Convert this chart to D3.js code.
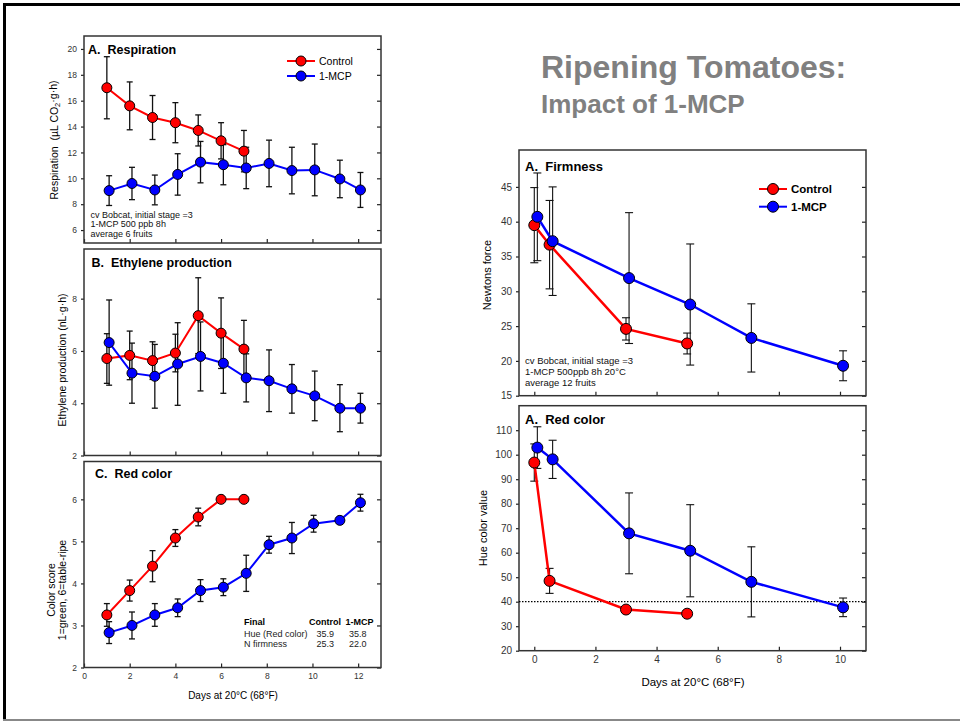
<!DOCTYPE html>
<html>
<head>
<meta charset="utf-8">
<script src="https://cdnjs.cloudflare.com/ajax/libs/d3/7.8.5/d3.min.js"></script>
<style>
body { margin: 0; background: #fff; }
svg { display: block; font-family: "Liberation Sans", Arial, Helvetica, sans-serif; }
.tick text { fill: #333; }
</style>
</head>
<body>
<div id="chart"></div>
<script>
// ---- data ----
// A. Respiration (uL CO2/g/h)
var respDaysCtl = [1, 2, 3, 4, 5, 6, 7];
var respCtl = [17.0, 15.6, 14.7, 14.3, 13.7, 12.9, 12.1];
var respCtlErr = [2.4, 1.85, 1.7, 1.55, 1.2, 1.4, 1.6];
var respDaysMcp = [1.1, 2.1, 3.1, 4.1, 5.1, 6.1, 7.1, 8.1, 9.1, 10.1, 11.2, 12.1];
var respMcp = [9.05, 9.6, 9.1, 10.3, 11.25, 11.05, 10.8, 11.15, 10.6, 10.65, 9.95, 9.1];
var respMcpErr = [1.15, 1.25, 1.15, 1.6, 1.6, 1.55, 1.6, 1.8, 1.8, 2.0, 1.45, 1.35];

// B. Ethylene production (nL/g/h)
var ethDaysCtl = [1, 2, 3, 4, 5, 6, 7];
var ethCtl = [5.71, 5.83, 5.63, 5.92, 7.35, 6.68, 6.07];
var ethCtlErr = [0.95, 0.93, 0.72, 0.72, 1.45, 1.35, 1.1];
var ethDaysMcp = [1.1, 2.1, 3.1, 4.1, 5.1, 6.1, 7.1, 8.1, 9.1, 10.1, 11.2, 12.1];
var ethMcp = [6.32, 5.15, 5.03, 5.5, 5.79, 5.53, 4.97, 4.86, 4.55, 4.28, 3.81, 3.81];
var ethMcpErr = [1.63, 1.15, 1.22, 1.58, 1.32, 1.15, 0.92, 1.18, 0.93, 0.95, 0.9, 0.57];

// C. Red color score
var colDaysCtl = [1, 2, 3, 4, 5, 6, 7];
var colCtl = [3.25, 3.83, 4.41, 5.08, 5.58, 6.0, 6.0];
var colCtlErr = [0.27, 0.25, 0.37, 0.2, 0.21, 0, 0];
var colDaysMcp = [1.1, 2.1, 3.1, 4.1, 5.1, 6.1, 7.1, 8.1, 9.1, 10.05, 11.2, 12.1];
var colMcp = [2.83, 3.0, 3.25, 3.42, 3.83, 3.91, 4.24, 4.92, 5.08, 5.42, 5.5, 5.92];
var colMcpErr = [0.26, 0.32, 0.27, 0.21, 0.26, 0.2, 0.43, 0.2, 0.37, 0.2, 0, 0.2];

// right: firmness (N)
var firmDaysCtl = [0, 0.5, 3, 5];
var firmCtl = [39.5, 36.7, 24.6, 22.5];
var firmCtlErr = [5.4, 6.35, 1.6, 1.5];
var firmDaysMcp = [0.1, 0.6, 3.1, 5.1, 7.1, 10.1];
var firmMcp = [40.7, 37.2, 31.9, 28.1, 23.3, 19.3];
var firmMcpErr = [6.3, 7.8, 9.4, 8.7, 4.9, 2.15];

// right: hue
var hueDaysCtl = [0, 0.5, 3, 5];
var hueCtl = [96.8, 48.5, 36.8, 35.1];
var hueCtlErr = [7.6, 5.1, 0, 0];
var hueDaysMcp = [0.1, 0.6, 3.1, 5.1, 7.1, 10.1];
var hueMcp = [102.9, 98.1, 67.9, 60.8, 48.1, 37.7];
var hueMcpErr = [8.5, 7.8, 16.5, 18.8, 14.3, 3.8];
var hueLimit = 40;

// tick labels
var leftDayTicks = [0, 2, 4, 6, 8, 10, 12];
var rightDayTicks = [0, 2, 4, 6, 8, 10];
var respTicks = [6, 8, 10, 12, 14, 16, 18, 20];
var ethTicks = [2, 4, 6, 8];
var colTicks = [2, 3, 4, 5, 6];
var firmTicks = [15, 20, 25, 30, 35, 40, 45];
var hueTicks = [20, 30, 40, 50, 60, 70, 80, 90, 100, 110];

var seriesNames = ["Control", "1-MCP"];
var seriesColors = ["#ff0000", "#0000ff"];

var noteLeft = ["cv Bobcat, initial stage =3", "1-MCP 500 ppb 8h", "average 6 fruits"];
var noteRight = ["cv Bobcat, initial stage =3", "1-MCP 500ppb 8h 20\u00B0C", "average 12 fruits"];
var finalHeader = ["Final", "Control", "1-MCP"];
var finalRows = [["Hue (Red color)", "35.9", "35.8"], ["N firmness", "25.3", "22.0"]];

var svg = d3.select("#chart")
    .append("svg")
    .attr("width", 960)
    .attr("height", 721);

// slide frame
svg.append("line").attr("x1", 3).attr("x2", 960).attr("y1", 4.5).attr("y2", 4.5)
    .attr("stroke", "#000").attr("stroke-width", 3);
svg.append("line").attr("x1", 4.5).attr("x2", 4.5).attr("y1", 3).attr("y2", 720)
    .attr("stroke", "#000").attr("stroke-width", 3);
svg.append("line").attr("x1", 3).attr("x2", 960).attr("y1", 720).attr("y2", 720)
    .attr("stroke", "#888").attr("stroke-width", 2);

function drawPanel(p) {
    var x = d3.scaleLinear().domain(p.xDomain).range([p.left, p.right]);
    var y = d3.scaleLinear().domain(p.yDomain).range([p.bottom, p.top]);
    var g = svg.append("g");

    // ticks left (outside), right (inside mirror), bottom (inside)
    var ya = g.append("g")
        .attr("transform", `translate(${p.left},0)`)
        .call(d3.axisLeft(y).tickValues(p.yTicks).tickSize(3).tickPadding(4).tickFormat(d3.format("d")));
    g.append("g")
        .attr("transform", `translate(${p.right},0)`)
        .call(d3.axisRight(y).tickValues(p.yTicks).tickSize(-4).tickFormat(""));
    var xa = g.append("g")
        .attr("transform", `translate(0,${p.bottom})`)
        .call(d3.axisBottom(x).tickValues(p.xTicks).tickSizeInner(-4).tickSizeOuter(0)
            .tickPadding(p.xPad).tickFormat(p.xLabels ? d3.format("d") : ""));
    g.selectAll(".domain").remove();
    g.selectAll(".tick line").attr("stroke", "#222").attr("stroke-width", 1.2);
    g.selectAll(".tick text").attr("font-size", p.tickFont);
    ya.attr("font-family", null);
    xa.attr("font-family", null);

    // plot frame
    g.append("rect")
        .attr("x", p.left).attr("y", p.top)
        .attr("width", p.right - p.left).attr("height", p.bottom - p.top)
        .attr("fill", "none").attr("stroke", "#333").attr("stroke-width", 1.5);

    if (p.refLine !== undefined) {
        g.append("line")
            .attr("x1", p.left).attr("x2", p.right)
            .attr("y1", y(p.refLine)).attr("y2", y(p.refLine))
            .attr("stroke", "#000").attr("stroke-width", 1.3)
            .attr("stroke-dasharray", "1.5,1.5");
    }

    var sets = p.series.map(function(s) {
        return s.days.map(function(d, i) {
            return { x: d, y: s.values[i], e: s.errors[i] };
        });
    });

    // error bars under everything
    sets.forEach(function(pts) {
        var eb = g.selectAll(null)
            .data(pts.filter(function(d) { return d.e > 0; }))
            .enter().append("g")
            .attr("stroke", "#111").attr("stroke-width", p.errWidth);
        eb.append("line")
            .attr("x1", d => x(d.x)).attr("x2", d => x(d.x))
            .attr("y1", d => y(d.y - d.e)).attr("y2", d => y(d.y + d.e));
        eb.append("line")
            .attr("x1", d => x(d.x) - p.cap).attr("x2", d => x(d.x) + p.cap)
            .attr("y1", d => y(d.y + d.e)).attr("y2", d => y(d.y + d.e));
        eb.append("line")
            .attr("x1", d => x(d.x) - p.cap).attr("x2", d => x(d.x) + p.cap)
            .attr("y1", d => y(d.y - d.e)).attr("y2", d => y(d.y - d.e));
    });

    var line = d3.line().x(d => x(d.x)).y(d => y(d.y));
    sets.forEach(function(pts, k) {
        g.append("path")
            .datum(pts)
            .attr("d", line)
            .attr("fill", "none")
            .attr("stroke", seriesColors[k])
            .attr("stroke-width", p.lineWidth);
        g.selectAll(null)
            .data(pts)
            .enter().append("circle")
            .attr("cx", d => x(d.x))
            .attr("cy", d => y(d.y))
            .attr("r", p.r)
            .attr("fill", seriesColors[k])
            .attr("stroke", "#000")
            .attr("stroke-width", 1);
    });

    // panel title
    g.append("text")
        .attr("x", p.titleX).attr("y", p.titleY)
        .attr("font-size", p.titleFont).attr("font-weight", "bold")
        .style("white-space", "pre")
        .text(p.title);

    return { x: x, y: y, g: g };
}

function legend(g, lx, ly, gap, font, weight, r) {
    seriesNames.forEach(function(name, k) {
        var cy = ly + k * gap;
        g.append("line").attr("x1", lx).attr("x2", lx + 28).attr("y1", cy).attr("y2", cy)
            .attr("stroke", seriesColors[k]).attr("stroke-width", 2);
        g.append("circle").attr("cx", lx + 14).attr("cy", cy).attr("r", r)
            .attr("fill", seriesColors[k]).attr("stroke", "#000");
        g.append("text").attr("x", lx + 32).attr("y", cy).attr("dy", "0.35em")
            .attr("font-size", font).attr("font-weight", weight).text(name);
    });
}

function note(g, lines, nx, ny, gap, font) {
    lines.forEach(function(t, i) {
        g.append("text").attr("x", nx).attr("y", ny + i * gap)
            .attr("font-size", font).attr("fill", "#111").text(t);
    });
}

function yLabel(lines, cx, cy, font, gap) {
    lines.forEach(function(t, i) {
        svg.append("text")
            .attr("transform", `translate(${cx + i * gap},${cy}) rotate(-90)`)
            .attr("text-anchor", "middle")
            .attr("dy", "0.35em")
            .attr("font-size", font)
            .style("white-space", "pre")
            .text(t);
    });
}

var leftCommon = {
    left: 84, right: 381, xDomain: [0, 13], xTicks: leftDayTicks,
    tickFont: 8.5, r: 5, lineWidth: 2, errWidth: 1.3, cap: 3, xPad: 5, titleFont: 12.5
};
var rightCommon = {
    left: 519, right: 866, xDomain: [-0.5, 10.85], xTicks: rightDayTicks,
    tickFont: 10, r: 5.5, lineWidth: 2.5, errWidth: 1.1, cap: 4, xPad: 5, titleFont: 13
};

// A. Respiration
var pA = drawPanel(Object.assign({}, leftCommon, {
    top: 36, bottom: 243, yDomain: [5, 21], yTicks: respTicks, xLabels: false,
    title: "A.  Respiration", titleX: 88, titleY: 54,
    series: [
        { days: respDaysCtl, values: respCtl, errors: respCtlErr },
        { days: respDaysMcp, values: respMcp, errors: respMcpErr }
    ]
}));
legend(pA.g, 287, 61, 15, 10.5, "normal", 5);
note(pA.g, noteLeft, 90.5, 217.5, 9.6, 9);

// B. Ethylene
var pB = drawPanel(Object.assign({}, leftCommon, {
    top: 249, bottom: 455.5, yDomain: [2, 9.9], yTicks: ethTicks, xLabels: false,
    title: "B.  Ethylene production", titleX: 91.5, titleY: 267,
    series: [
        { days: ethDaysCtl, values: ethCtl, errors: ethCtlErr },
        { days: ethDaysMcp, values: ethMcp, errors: ethMcpErr }
    ]
}));

// C. Red color score
var pC = drawPanel(Object.assign({}, leftCommon, {
    top: 461.5, bottom: 667.5, yDomain: [2, 6.9], yTicks: colTicks, xLabels: true,
    title: "C.  Red color", titleX: 95, titleY: 478,
    series: [
        { days: colDaysCtl, values: colCtl, errors: colCtlErr },
        { days: colDaysMcp, values: colMcp, errors: colMcpErr }
    ]
}));
var tableX = [244, 309, 345.5];
var valueX = [244, 316.5, 349];
finalHeader.forEach(function(t, i) {
    pC.g.append("text").attr("x", tableX[i]).attr("y", 625)
        .attr("font-size", 9).attr("font-weight", "bold").text(t);
});
finalRows.forEach(function(row, j) {
    row.forEach(function(t, i) {
        pC.g.append("text").attr("x", valueX[i]).attr("y", 636.5 + j * 10)
            .attr("font-size", 9).attr("fill", "#222").text(t);
    });
});

// right top: firmness
var pF = drawPanel(Object.assign({}, rightCommon, {
    top: 150, bottom: 395.7, yDomain: [15, 50.3], yTicks: firmTicks, xLabels: false,
    title: "A.  Firmness", titleX: 525, titleY: 171,
    series: [
        { days: firmDaysCtl, values: firmCtl, errors: firmCtlErr },
        { days: firmDaysMcp, values: firmMcp, errors: firmMcpErr }
    ]
}));
legend(pF.g, 759, 189, 17.7, 11.5, "bold", 5.5);
note(pF.g, noteRight, 525, 363.5, 11.3, 9.5);

// right bottom: hue
var pH = drawPanel(Object.assign({}, rightCommon, {
    top: 405.7, bottom: 650.7, yDomain: [20, 120], yTicks: hueTicks, xLabels: true,
    refLine: hueLimit,
    title: "A.  Red color", titleX: 525, titleY: 423.5,
    series: [
        { days: hueDaysCtl, values: hueCtl, errors: hueCtlErr },
        { days: hueDaysMcp, values: hueMcp, errors: hueMcpErr }
    ]
}));

// axis titles
var respLabel = svg.append("text")
    .attr("transform", "translate(54,140) rotate(-90)")
    .attr("text-anchor", "middle")
    .attr("dy", "0.35em")
    .attr("font-size", 10.5)
    .style("white-space", "pre");
respLabel.append("tspan").text("Respiration  (\u00B5L CO");
respLabel.append("tspan").attr("font-size", 7.5).attr("dy", "0.3em").text("2");
respLabel.append("tspan").attr("dy", "-0.3em").text("\u00B7g\u00B7h)");

yLabel(["Ethylene production (nL\u00B7g\u00B7h)"], 62.5, 360, 10.5, 0);
yLabel(["Color score", "1=green, 6=table-ripe"], 51, 590, 10.5, 11.7);
yLabel(["Newtons force"], 487.5, 275, 11, 0);
yLabel(["Hue color value"], 483.5, 528, 11, 0);

svg.append("text").attr("x", 233).attr("y", 695.5).attr("dy", "0.35em")
    .attr("text-anchor", "middle").attr("font-size", 10).text("Days at 20\u00B0C (68\u00B0F)");
svg.append("text").attr("x", 693).attr("y", 681.5).attr("dy", "0.35em")
    .attr("text-anchor", "middle").attr("font-size", 11.5).text("Days at 20\u00B0C (68\u00B0F)");

// slide title
svg.append("text").attr("x", 541).attr("y", 78)
    .attr("font-size", 32).attr("font-weight", "bold").attr("fill", "#808080")
    .text("Ripening Tomatoes:");
svg.append("text").attr("x", 541).attr("y", 113)
    .attr("font-size", 26).attr("font-weight", "bold").attr("fill", "#808080")
    .text("Impact of 1-MCP");
</script>
</body>
</html>
